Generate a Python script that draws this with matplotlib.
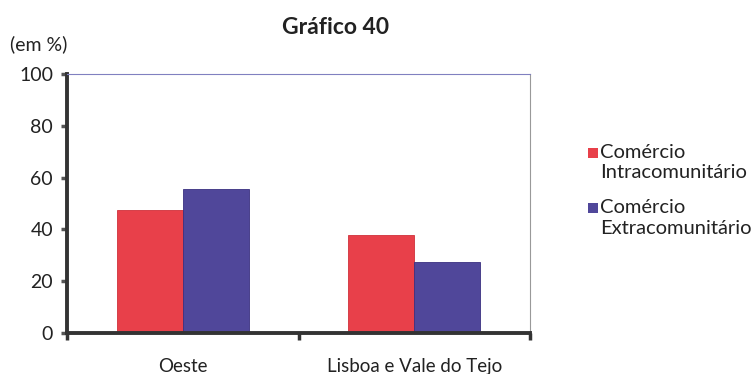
import matplotlib
matplotlib.use("Agg")
import matplotlib.pyplot as plt
from matplotlib.patches import Rectangle
import numpy as np

plt.rcParams['font.family'] = ['Lato', 'DejaVu Sans']

categories = ["Oeste", "Lisboa e Vale do Tejo"]
intra = [47.5, 37.7]
extra = [55.6, 27.5]
series_names = ["Comércio\nIntracomunitário", "Comércio\nExtracomunitário"]
yticks = [0, 20, 40, 60, 80, 100]

red = "#E8404A"
blue = "#50479A"

W, H = 756, 374
fig = plt.figure(figsize=(W / 100, H / 100), dpi=100)
ax = fig.add_axes([67 / W, (H - 333) / H, (530 - 67) / W, (333 - 74) / H])

x = np.arange(len(categories))
w = 0.285
b1 = ax.bar(x - w/2, intra, w, color=red, edgecolor="#D0303A", linewidth=0.6)
b2 = ax.bar(x + w/2, extra, w, color=blue, edgecolor="#3A3080", linewidth=0.6)

ax.set_xlim(-0.5, 1.5)
ax.set_ylim(0, 100)
ax.set_yticks(yticks)
ax.set_yticklabels([str(v) for v in yticks], fontsize=14, color="#222222")
ax.set_xticks([-0.5, 0.5, 1.5])
ax.set_xticklabels([])
ax.set_xticks(x, minor=True)
ax.set_xticklabels(categories, minor=True, fontsize=13.5, color="#222222")
ax.tick_params(axis='x', which='minor', length=0, pad=18)
ax.tick_params(axis='x', which='major', direction='out', length=5, width=2.5, color="#333333")
ax.tick_params(axis='y', direction='out', length=4, width=2.5, color="#555555", pad=6)

for s in ['left', 'bottom']:
    ax.spines[s].set_linewidth(2.8)
    ax.spines[s].set_color("#333333")
ax.spines['top'].set_color("#8080C0")
ax.spines['top'].set_linewidth(0.8)
ax.spines['right'].set_color("#999999")
ax.spines['right'].set_linewidth(0.8)

fig.text(336 / W, 1 - 27 / H, "Gráfico 40", ha='center', va='center', fontsize=16.5,
         fontweight='bold', color="#222222")
fig.text(10 / W, 1 - 44 / H, "(em %)", ha='left', va='center', fontsize=14, color="#222222")

# legend drawn manually to keep the square aligned with the first text line
legend_items = [(red, series_names[0], 153), (blue, series_names[1], 208)]
for col, name, yc in legend_items:
    fig.add_artist(Rectangle((588 / W, 1 - (yc + 5) / H), 10 / W, 10 / H,
                             transform=fig.transFigure, facecolor=col, edgecolor='none'))
    fig.text(600 / W, 1 - (yc - 9) / H, name, ha='left', va='top', fontsize=14.5,
             color="#222222", linespacing=1.25)

fig.savefig("out.png", dpi=100)
